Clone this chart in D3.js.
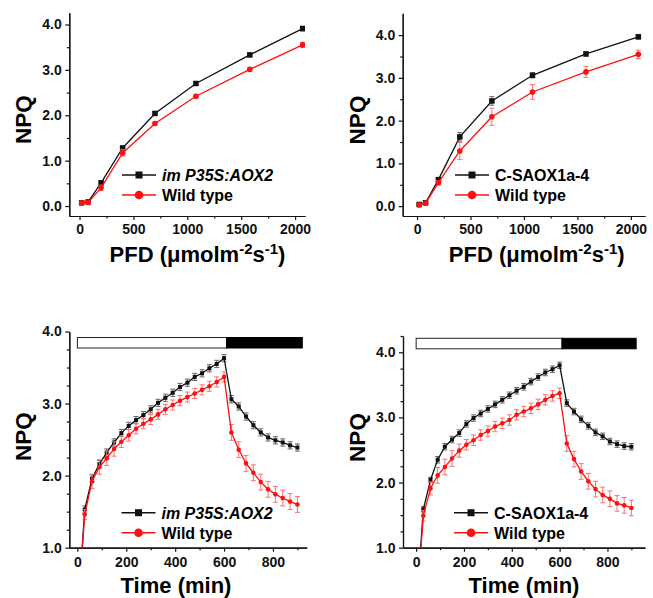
<!DOCTYPE html>
<html>
<head>
<meta charset="utf-8">
<script src="https://cdn.jsdelivr.net/npm/d3@7"></script>
<style>
body { margin: 0; background: #fff; }
svg { font-family: "Liberation Sans", Arial, sans-serif; font-weight: bold; }
</style>
</head>
<body>
<svg width="653" height="598"></svg>
<script>
// light response curves (top)
const pfd = [20, 80, 200, 400, 700, 1080, 1580, 2070]
const npqAox2Light = [0.07, 0.09, 0.51, 1.28, 2.04, 2.70, 3.33, 3.91]
const errAox2Light = [0.02, 0.02, 0.04, 0.04, 0.04, 0.04, 0.04, 0.05]
const npqWt1Light = [0.07, 0.08, 0.40, 1.17, 1.82, 2.42, 3.01, 3.55]
const errWt1Light = [0.02, 0.02, 0.06, 0.07, 0.04, 0.04, 0.04, 0.06]
const npqSaoxLight = [0.04, 0.08, 0.62, 1.62, 2.46, 3.06, 3.56, 3.96]
const errSaoxLight = [0.02, 0.02, 0.04, 0.10, 0.10, 0.06, 0.05, 0.05]
const npqWt2Light = [0.03, 0.07, 0.55, 1.29, 2.09, 2.67, 3.14, 3.55]
const errWt2Light = [0.02, 0.02, 0.05, 0.20, 0.20, 0.17, 0.13, 0.10]

// induction / relaxation kinetics (bottom)
const time = [0, 30, 60, 90, 120, 150, 180, 210, 240, 270, 300, 330, 360, 390, 420, 450, 480, 510, 540, 570, 600,
  630, 660, 690, 720, 750, 780, 810, 840, 870, 900]
const npqAox2Time = [0, 1.53, 1.96, 2.16, 2.32, 2.46, 2.59, 2.69, 2.77, 2.84, 2.92, 3.01, 3.08, 3.15, 3.23, 3.29, 3.37, 3.42, 3.49, 3.55, 3.63,
  3.06, 2.96, 2.82, 2.70, 2.60, 2.53, 2.49, 2.46, 2.42, 2.39]
const errAox2Time = [0, 0.05, 0.05, 0.05, 0.05, 0.05, 0.05, 0.05, 0.05, 0.05, 0.05, 0.05, 0.05, 0.05, 0.05, 0.05, 0.05, 0.05, 0.05, 0.05, 0.05,
  0.05, 0.05, 0.05, 0.05, 0.05, 0.05, 0.05, 0.05, 0.05, 0.05]
const npqWt1Time = [0, 1.46, 1.92, 2.12, 2.24, 2.37, 2.47, 2.56, 2.65, 2.72, 2.78, 2.85, 2.92, 2.98, 3.04, 3.09, 3.14, 3.19, 3.24, 3.30, 3.37,
  2.60, 2.36, 2.17, 2.04, 1.91, 1.81, 1.74, 1.69, 1.64, 1.60]
const errWt1Time = [0, 0.07, 0.1, 0.1, 0.1, 0.1, 0.08, 0.08, 0.07, 0.07, 0.07, 0.07, 0.07, 0.07, 0.07, 0.07, 0.07, 0.07, 0.07, 0.07, 0.07,
  0.11, 0.11, 0.11, 0.11, 0.11, 0.11, 0.11, 0.11, 0.11, 0.11]
const npqSaoxTime = [0, 1.59, 2.04, 2.35, 2.55, 2.66, 2.76, 2.90, 2.99, 3.06, 3.13, 3.20, 3.27, 3.34, 3.41, 3.47, 3.55, 3.62, 3.69, 3.74, 3.80,
  3.22, 3.09, 2.97, 2.87, 2.77, 2.71, 2.63, 2.59, 2.56, 2.55]
const errSaoxTime = [0, 0.04, 0.04, 0.05, 0.05, 0.05, 0.05, 0.05, 0.05, 0.05, 0.05, 0.05, 0.05, 0.05, 0.05, 0.05, 0.05, 0.05, 0.05, 0.05, 0.05,
  0.05, 0.05, 0.05, 0.05, 0.05, 0.05, 0.05, 0.05, 0.05, 0.05]
const npqWt2Time = [0, 1.49, 1.91, 2.11, 2.24, 2.37, 2.49, 2.58, 2.65, 2.73, 2.79, 2.86, 2.91, 2.96, 3.04, 3.09, 3.14, 3.20, 3.27, 3.33, 3.37,
  2.60, 2.36, 2.17, 2.02, 1.90, 1.81, 1.75, 1.68, 1.65, 1.61]
const errWt2Time = [0, 0.08, 0.1, 0.12, 0.12, 0.12, 0.1, 0.08, 0.08, 0.08, 0.08, 0.08, 0.08, 0.08, 0.08, 0.08, 0.08, 0.08, 0.08, 0.08, 0.08,
  0.12, 0.12, 0.12, 0.12, 0.12, 0.12, 0.12, 0.12, 0.12, 0.12]

// light on / dark period bar
const lightPeriod = [0, 610]
const darkPeriod = [610, 920]

const pfdTicks = [0, 500, 1000, 1500, 2000]
const pfdMinor = [250, 750, 1250, 1750]
const npqTicksTop = [0, 1, 2, 3, 4]
const npqMinorTop = [0.5, 1.5, 2.5, 3.5]
const timeTicks = [0, 200, 400, 600, 800]
const timeMinor = [100, 300, 500, 700, 900]
const npqTicksBottom = [1, 2, 3, 4]
const npqMinorBottom = [1.25, 1.5, 1.75, 2.25, 2.5, 2.75, 3.25, 3.5, 3.75, 4.25]

const svg = d3.select('svg')
const fmt = d3.format('.1f')
const RED = '#ff1010'

const panels = [
  {
    id: 'a', xRange: [69.3, 305], xDomain: [-95, 2092], yRange: [216, 12.7], yDomain: [-0.22, 4.26],
    xTicks: pfdTicks, xMinor: pfdMinor, yTicks: npqTicksTop, yMinor: npqMinorTop,
    xs: pfd, black: [npqAox2Light, errAox2Light], red: [npqWt1Light, errWt1Light],
    label: 'im P35S:AOX2', italic: true, legend: [122, 175], npq: [30.5, 119.7],
    title: 'pfd', titlePos: [197.5, 261.7], mk: 5.5, r: 2.8
  },
  {
    id: 'b', xRange: [402.7, 645], xDomain: [-134, 2132], yRange: [216, 13.3], yDomain: [-0.23, 4.51],
    xTicks: pfdTicks, xMinor: pfdMinor, yTicks: npqTicksTop, yMinor: npqMinorTop,
    xs: pfd, black: [npqSaoxLight, errSaoxLight], red: [npqWt2Light, errWt2Light],
    label: 'C-SAOX1a-4', italic: false, legend: [455, 175], npq: [365, 120],
    title: 'pfd', titlePos: [536.7, 261.7], mk: 5.5, r: 2.8
  },
  {
    id: 'c', xRange: [69.3, 306.7], xDomain: [-33, 938], yRange: [547.7, 331.5], yDomain: [1, 4],
    xTicks: timeTicks, xMinor: timeMinor, yTicks: npqTicksBottom, yMinor: npqMinorBottom.filter(v => v < 4),
    xs: time, black: [npqAox2Time, errAox2Time], red: [npqWt1Time, errWt1Time],
    label: 'im P35S:AOX2', italic: true, legend: [121.5, 512.7], npq: [30.5, 436.7],
    title: 'time', titlePos: [176, 592.5], bar: 337.5, mk: 4, r: 2.3
  },
  {
    id: 'd', xRange: [403, 645], xDomain: [-55, 957], yRange: [547.7, 336], yDomain: [1, 4.25],
    xTicks: timeTicks, xMinor: timeMinor, yTicks: npqTicksBottom, yMinor: npqMinorBottom,
    xs: time, black: [npqSaoxTime, errSaoxTime], red: [npqWt2Time, errWt2Time],
    label: 'C-SAOX1a-4', italic: false, legend: [454, 512.7], npq: [365, 437.5],
    title: 'time', titlePos: [524, 592.5], bar: 338.3, mk: 4, r: 2.3
  }
]

const styleAxis = g => {
  g.attr('font-size', 14).attr('font-family', '"Liberation Sans", Arial, sans-serif').attr('font-weight', 'bold')
  g.selectAll('path, line').attr('stroke', '#111').attr('stroke-width', 1.2)
  g.selectAll('text').attr('fill', '#111')
}

const drawPanel = p => {
  const x = d3.scaleLinear().domain(p.xDomain).range(p.xRange)
  const y = d3.scaleLinear().domain(p.yDomain).range(p.yRange)
  const g = svg.append('g')

  const clipId = 'clip-' + p.id
  svg.append('clipPath').attr('id', clipId)
    .append('rect')
    .attr('x', p.xRange[0]).attr('y', p.yRange[1])
    .attr('width', p.xRange[1] - p.xRange[0])
    .attr('height', p.yRange[0] - p.yRange[1])

  // axes: minor ticks first, then major ticks with labels
  g.append('g').attr('transform', `translate(0,${p.yRange[0]})`)
    .call(d3.axisBottom(x).tickValues(p.xMinor).tickSize(2.5).tickSizeOuter(0).tickFormat(''))
    .call(styleAxis)
  g.append('g').attr('transform', `translate(0,${p.yRange[0]})`)
    .call(d3.axisBottom(x).tickValues(p.xTicks).tickSize(4).tickSizeOuter(0).tickPadding(p.bar ? 5 : 4).tickFormat(d3.format('d')))
    .call(styleAxis)
  g.append('g').attr('transform', `translate(${p.xRange[0]},0)`)
    .call(d3.axisLeft(y).tickValues(p.yMinor).tickSize(2.5).tickSizeOuter(0).tickFormat(''))
    .call(styleAxis)
  g.append('g').attr('transform', `translate(${p.xRange[0]},0)`)
    .call(d3.axisLeft(y).tickValues(p.yTicks).tickSize(4).tickSizeOuter(0).tickPadding(3.5).tickFormat(fmt))
    .call(styleAxis)

  // light / dark bar
  if (p.bar) {
    g.append('rect')
      .attr('x', x(lightPeriod[0])).attr('y', p.bar)
      .attr('width', x(lightPeriod[1]) - x(lightPeriod[0])).attr('height', 10.5)
      .attr('fill', '#fff').attr('stroke', '#222').attr('stroke-width', 1)
    g.append('rect')
      .attr('x', x(darkPeriod[0])).attr('y', p.bar)
      .attr('width', x(darkPeriod[1]) - x(darkPeriod[0])).attr('height', 10.5)
      .attr('fill', '#000').attr('stroke', '#000').attr('stroke-width', 1)
  }

  const series = [
    { vals: p.black[0], errs: p.black[1], color: '#111', errColor: '#666', shape: 'square' },
    { vals: p.red[0], errs: p.red[1], color: RED, errColor: '#ff7070', shape: 'circle' }
  ]

  const plot = g.append('g').attr('clip-path', `url(#${clipId})`)
  const line = d3.line().x(d => x(d.x)).y(d => y(d.y))

  series.forEach(s => {
    const pts = p.xs.map((v, i) => ({ x: v, y: s.vals[i], e: s.errs[i] }))
    const eb = plot.append('g').attr('stroke', s.errColor).attr('stroke-width', 1)
    pts.forEach(d => {
      const cx = x(d.x)
      eb.append('line').attr('x1', cx).attr('x2', cx).attr('y1', y(d.y - d.e)).attr('y2', y(d.y + d.e))
      eb.append('line').attr('x1', cx - 2.5).attr('x2', cx + 2.5).attr('y1', y(d.y - d.e)).attr('y2', y(d.y - d.e))
      eb.append('line').attr('x1', cx - 2.5).attr('x2', cx + 2.5).attr('y1', y(d.y + d.e)).attr('y2', y(d.y + d.e))
    })
    plot.append('path').datum(pts)
      .attr('d', line).attr('fill', 'none')
      .attr('stroke', s.color).attr('stroke-width', 1.3)
    if (s.shape === 'square') {
      plot.selectAll(null).data(pts).enter().append('rect')
        .attr('x', d => x(d.x) - p.mk / 2).attr('y', d => y(d.y) - p.mk / 2)
        .attr('width', p.mk).attr('height', p.mk).attr('fill', s.color)
    } else {
      plot.selectAll(null).data(pts).enter().append('circle')
        .attr('cx', d => x(d.x)).attr('cy', d => y(d.y)).attr('r', p.r).attr('fill', s.color)
    }
  })

  // legend
  const [lx, ly] = p.legend
  const lg = g.append('g')
  lg.append('line').attr('x1', lx).attr('x2', lx + 34).attr('y1', ly).attr('y2', ly)
    .attr('stroke', '#111').attr('stroke-width', 1.5)
  lg.append('rect').attr('x', lx + 17 - 3.5).attr('y', ly - 3.5).attr('width', 7).attr('height', 7).attr('fill', '#111')
  lg.append('text').attr('x', lx + 40).attr('y', ly + 5.8).attr('font-size', 16)
    .attr('font-style', p.italic ? 'italic' : 'normal').text(p.label)
  lg.append('line').attr('x1', lx).attr('x2', lx + 34).attr('y1', ly + 20).attr('y2', ly + 20)
    .attr('stroke', RED).attr('stroke-width', 1.5)
  lg.append('circle').attr('cx', lx + 17).attr('cy', ly + 20).attr('r', 4.3).attr('fill', RED)
  lg.append('text').attr('x', lx + 40).attr('y', ly + 25.8).attr('font-size', 16).text('Wild type')

  // axis titles
  g.append('text')
    .attr('transform', `translate(${p.npq[0]},${p.npq[1]}) rotate(-90)`)
    .attr('text-anchor', 'middle').attr('font-size', 22.5).text('NPQ')

  const t = g.append('text').attr('x', p.titlePos[0]).attr('y', p.titlePos[1])
    .attr('text-anchor', 'middle').attr('font-size', 22)
  if (p.title === 'pfd') {
    t.append('tspan').text('PFD (μmolm')
    t.append('tspan').attr('font-size', 15).attr('dy', -8).text('-2')
    t.append('tspan').attr('dy', 8).text('s')
    t.append('tspan').attr('font-size', 15).attr('dy', -8).text('-1')
    t.append('tspan').attr('dy', 8).text(')')
  } else {
    t.text('Time (min)')
  }
}

panels.forEach(drawPanel)
</script>
</body>
</html>
